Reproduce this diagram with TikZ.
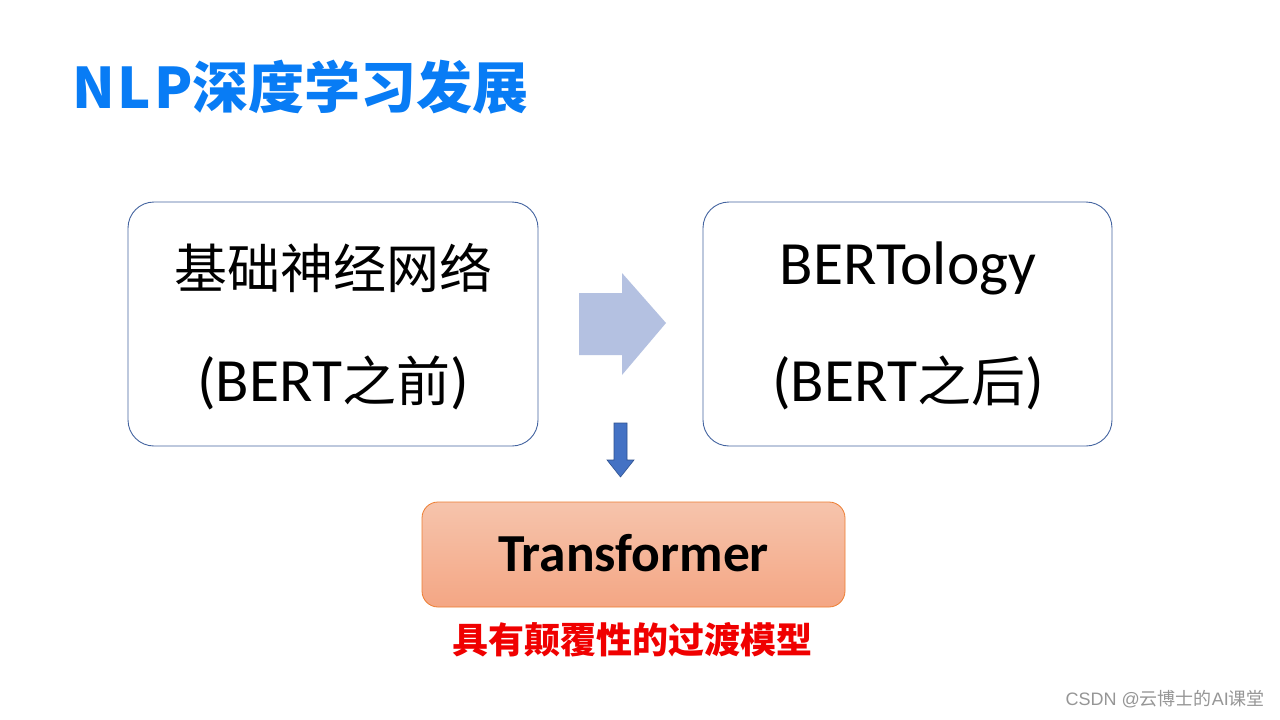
\documentclass[tikz,border=0pt]{standalone}
\usepackage{fontspec}
\setmainfont{Carlito}
\newfontfamily\cjk{Noto Sans CJK SC}
\newfontfamily\wmfont{Liberation Sans}
\definecolor{titleblue}{RGB}{8,124,245}
\definecolor{boxline}{RGB}{68,100,160}
\definecolor{bigarrow}{RGB}{180,193,225}
\definecolor{smallarrow}{RGB}{68,114,196}
\definecolor{smallarrowline}{RGB}{47,82,143}
\definecolor{trtop}{RGB}{246,196,172}
\definecolor{trbot}{RGB}{244,166,132}
\definecolor{trline}{RGB}{237,125,49}
\definecolor{redtxt}{RGB}{240,0,0}
\definecolor{wmgray}{RGB}{150,150,150}
\tikzset{
  mainbox/.style={draw=boxline, line width=0.9pt, fill=white, rounded corners=26pt},
  cjkbig/.style={font=\cjk\fontsize{53}{60}\selectfont, inner sep=0pt},
  latbig/.style={font=\fontsize{61.5}{66}\selectfont, inner sep=0pt},
}
\newcommand{\ck}[1]{{\cjk\fontsize{54}{60}\selectfont #1}}
\begin{document}
\begin{tikzpicture}[x=1pt,y=-1pt]
\useasboundingbox (0,0) rectangle (1280,720);
\fill[white] (0,0) rectangle (1280,720);
% title
\node[anchor=west, inner sep=0pt, text=titleblue, font=\cjk\bfseries\fontsize{56}{60}\selectfont] (title) at (72,87) {N\kern3pt L\kern3pt P深度学习发展};
% boxes
\draw[mainbox] (128,202) rectangle (538,446);
\draw[mainbox] (703,202) rectangle (1112,446);
\node[cjkbig] (l1) at (333,268) {基础神经网络};
\node[latbig] (l2) at (333,383) {(BERT\ck{之前})};
\node[latbig] (r1) at (908,268) {BERTology};
\node[latbig] (r2) at (908,383) {(BERT\ck{之后})};
% big arrow
\fill[bigarrow] (579,293) -- (622,293) -- (622,273) -- (666,323) -- (622,375) -- (622,355) -- (579,355) -- cycle;
% small arrow
\filldraw[fill=smallarrow, draw=smallarrowline, line width=0.6pt] (614,423) -- (627,423) -- (627,460) -- (634,460) -- (620.5,477) -- (607,460) -- (614,460) -- cycle;
% transformer box
\draw[draw=trline, line width=0.8pt, top color=trtop, bottom color=trbot, rounded corners=16pt] (422,502) rectangle (845,607);
\node[inner sep=0pt, font=\bfseries\fontsize{53.5}{58}\selectfont] (tr) at (633.5,553) {Transformer};
\node[inner sep=0pt, text=redtxt, font=\cjk\bfseries\fontsize{36}{40}\selectfont] (sub) at (632,640) {具有颠覆性的过渡模型};
% watermark
\node[anchor=east, inner sep=0pt, text=wmgray, font=\wmfont\fontsize{18}{20}\selectfont] (wm) at (1265,699) {CSDN @{\cjk 云博士的}AI{\cjk 课堂}};
\end{tikzpicture}
\end{document}
